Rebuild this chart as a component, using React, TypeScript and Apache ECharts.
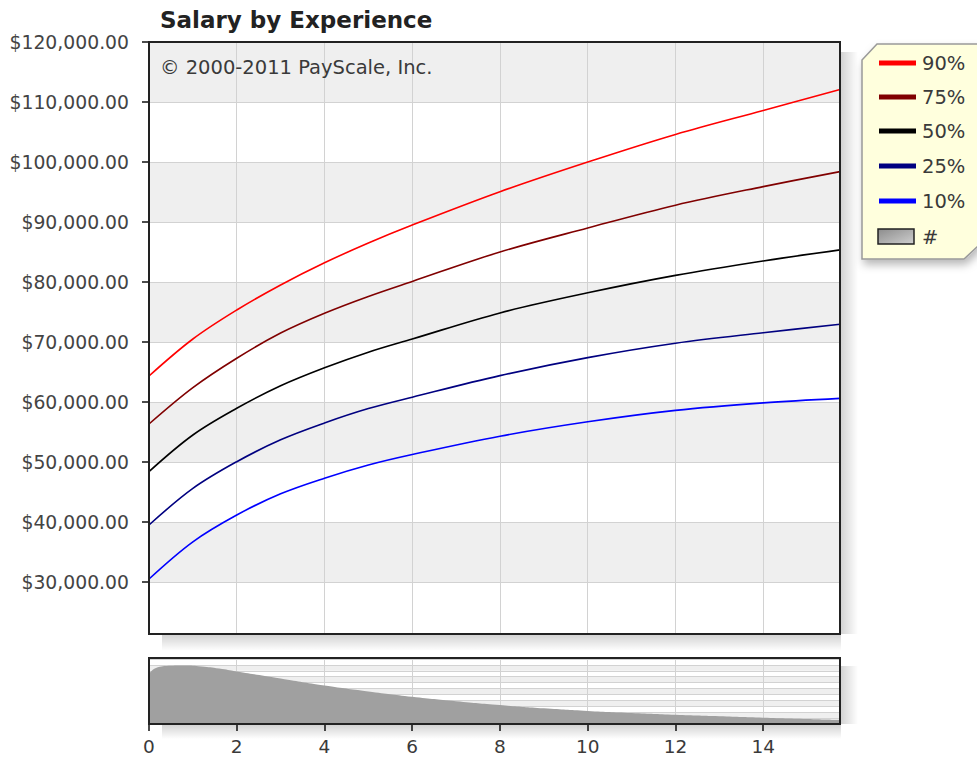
import React, { useEffect, useRef } from "react";
import * as echarts from "echarts";

const FONT = "DejaVu Sans";

const titleText = "Salary by Experience";
const copyrightText = "© 2000-2011 PayScale, Inc.";

// years of experience for the percentile curves
const years = [0, 1, 2, 3, 4, 5, 6, 8, 10, 12, 14, 15.75];
const p90 = [64333, 70500, 75333, 79500, 83200, 86500, 89500, 95050, 100000, 104600, 108600, 112100];
const p75 = [56333, 62400, 67300, 71500, 74800, 77600, 80100, 85000, 89000, 92800, 95900, 98400];
const p50 = [48400, 54500, 58950, 62700, 65700, 68300, 70500, 74850, 78200, 81100, 83500, 85350];
const p25 = [39500, 45600, 50050, 53700, 56500, 58900, 60800, 64400, 67400, 69800, 71550, 72950];
const p10 = [30500, 36700, 41167, 44700, 47300, 49500, 51250, 54300, 56700, 58600, 59850, 60600];

const seriesNames = ["90%", "75%", "50%", "25%", "10%"];
const seriesColors = ["#ff0000", "#800000", "#000000", "#000080", "#0000ff"];
const countName = "#";

// count of profiles by years of experience (relative)
const countYears = [0, 0.2, 0.5, 0.8, 1.2, 1.6, 2, 3, 4, 5, 6, 7, 8, 9, 10, 11, 12, 13, 14, 15, 15.75];
const counts = [8.5, 9.6, 9.85, 9.9, 9.75, 9.4, 8.9, 7.7, 6.5, 5.5, 4.6, 3.85, 3.2, 2.65, 2.2, 1.85, 1.55, 1.3, 1.07, 0.85, 0.7];

const xTicks = [0, 2, 4, 6, 8, 10, 12, 14];
const yMin = 20000;
const yMax = 120000;
const yStep = 10000;
const xMax = 15.75;

export default function App() {
  const ref = useRef<HTMLDivElement>(null);
  useEffect(() => {
    document.body.style.margin = "0";
    if (!ref.current) return;
    const chart = echarts.init(ref.current, null, { renderer: "svg" });
    const pct = [p90, p75, p50, p25, p10];
    const lineSeries = pct.map((vals, i) => ({
      name: seriesNames[i],
      type: "line",
      xAxisIndex: 0,
      yAxisIndex: 0,
      data: years.map((x, j) => [x, vals[j]]),
      smooth: 0.35,
      showSymbol: false,
      lineStyle: { color: seriesColors[i], width: 1.6 },
      z: 3,
    }));
    const fmtMoney = (v: number) =>
      v < 30000 ? "" : "$" + v.toLocaleString("en-US", { minimumFractionDigits: 2, maximumFractionDigits: 2 });

    const grad = (x2: number, y2: number) =>
      new echarts.graphic.LinearGradient(0, 0, x2, y2, [
        { offset: 0, color: "rgba(0,0,0,0.17)" },
        { offset: 1, color: "rgba(0,0,0,0)" },
      ]);

    const legendItems: any[] = [];
    const legendY = [63, 97, 131, 166, 201];
    seriesNames.forEach((n, i) => {
      legendItems.push({
        type: "line",
        z: 21,
        shape: { x1: 879, y1: legendY[i], x2: 916, y2: legendY[i] },
        style: { stroke: seriesColors[i], lineWidth: 5 },
      });
      legendItems.push({
        type: "text",
        z: 21,
        style: {
          text: n,
          x: 922,
          y: legendY[i],
          fill: "#3a3a3a",
          fontSize: 19.5,
          fontFamily: FONT,
          textVerticalAlign: "middle",
          verticalAlign: "middle",
        },
      });
    });
    legendItems.push({
      type: "rect",
      z: 21,
      shape: { x: 878, y: 229, width: 36, height: 15 },
      style: {
        fill: new echarts.graphic.LinearGradient(0, 0, 1, 1, [
          { offset: 0, color: "#8c8c8c" },
          { offset: 1, color: "#cfcfcf" },
        ]),
        stroke: "#222",
        lineWidth: 1.5,
      },
    });
    legendItems.push({
      type: "text",
      z: 21,
      style: {
        text: countName,
        x: 922,
        y: 237,
        fill: "#3a3a3a",
        fontSize: 19.5,
        fontFamily: FONT,
        textVerticalAlign: "middle",
        verticalAlign: "middle",
      },
    });

    chart.setOption({
      animation: false,
      grid: [
        { left: 149, top: 42, width: 691, height: 600 },
        { left: 149, top: 659, width: 691, height: 65 },
      ],
      xAxis: [
        {
          gridIndex: 0,
          type: "value",
          min: 0,
          max: xMax,
          interval: 2,
          axisLine: { show: false },
          axisTick: { show: false },
          axisLabel: { show: false },
          splitLine: { show: true, lineStyle: { color: "#d2d2d2", width: 1 } },
        },
        {
          gridIndex: 1,
          type: "value",
          min: 0,
          max: xMax,
          interval: 2,
          axisLine: { show: true, lineStyle: { color: "#111", width: 2 } },
          axisTick: { show: true, length: 7, lineStyle: { color: "#111", width: 1.5 }, customValues: xTicks },
          axisLabel: {
            margin: 13,
            fontSize: 18.5,
            color: "#3a3a3a",
            fontFamily: FONT,
            customValues: xTicks,
            formatter: (v: number) => (v % 2 === 0 && v < xMax ? String(v) : ""),
          },
          splitLine: { show: true, lineStyle: { color: "#d2d2d2", width: 1 } },
        },
      ],
      yAxis: [
        {
          gridIndex: 0,
          type: "value",
          min: yMin,
          max: yMax,
          interval: yStep,
          axisLine: { show: false },
          axisTick: { show: true, length: 7, lineStyle: { color: "#111", width: 1.5 } },
          axisLabel: { margin: 20, fontSize: 18.8, color: "#444", fontFamily: FONT, formatter: fmtMoney },
          splitLine: { show: true, lineStyle: { color: "#d2d2d2", width: 1 } },
          splitArea: { show: true, areaStyle: { color: ["#ffffff", "#efefef"] } },
        },
        {
          gridIndex: 1,
          type: "value",
          min: 0,
          max: 11,
          interval: 1,
          axisLine: { show: false },
          axisTick: { show: false },
          axisLabel: { show: false },
          splitLine: { show: true, lineStyle: { color: "#d2d2d2", width: 1 } },
          splitArea: { show: true, areaStyle: { color: ["#ffffff", "#efefef"] } },
        },
      ],
      series: [
        ...lineSeries,
        {
          name: countName,
          type: "line",
          xAxisIndex: 1,
          yAxisIndex: 1,
          data: countYears.map((x, j) => [x, counts[j]]),
          smooth: 0.5,
          showSymbol: false,
          lineStyle: { width: 0 },
          areaStyle: { color: "#a0a0a0", opacity: 1 },
          z: 3,
        },
      ],
      graphic: [
        { type: "rect", z: 5, shape: { x: 130, y: 634, width: 730, height: 12 }, style: { fill: "#ffffff" } },
        { type: "rect", z: 6, shape: { x: 841, y: 52, width: 17, height: 582 }, style: { fill: grad(1, 0) } },
        { type: "rect", z: 6, shape: { x: 162, y: 635, width: 679, height: 16 }, style: { fill: grad(0, 1) } },
        { type: "rect", z: 6, shape: { x: 841, y: 666, width: 17, height: 58 }, style: { fill: grad(1, 0) } },
        { type: "rect", z: 6, shape: { x: 162, y: 725, width: 679, height: 14 }, style: { fill: grad(0, 1) } },
        { type: "rect", z: 10, shape: { x: 149, y: 42, width: 691, height: 592 }, style: { fill: "none", stroke: "#222", lineWidth: 2 } },
        { type: "rect", z: 10, shape: { x: 149, y: 658, width: 691, height: 66 }, style: { fill: "none", stroke: "#222", lineWidth: 2 } },
        {
          type: "text",
          z: 11,
          style: {
            text: titleText,
            x: 160,
            y: 20,
            fill: "#222",
            fontSize: 23,
            fontWeight: "bold",
            fontFamily: FONT,
            textVerticalAlign: "middle",
            verticalAlign: "middle",
          },
        },
        {
          type: "text",
          z: 11,
          style: {
            text: copyrightText,
            x: 160,
            y: 67,
            fill: "#3a3a3a",
            fontSize: 19.5,
            fontFamily: FONT,
            textVerticalAlign: "middle",
            verticalAlign: "middle",
          },
        },
        {
          type: "polygon",
          z: 20,
          shape: {
            points: [
              [862, 60],
              [877, 44],
              [978, 44],
              [978, 246],
              [964, 259],
              [862, 259],
            ],
          },
          style: {
            fill: "#ffffdd",
            stroke: "#999",
            lineWidth: 1.5,
            shadowBlur: 8,
            shadowOffsetX: 2,
            shadowOffsetY: 5,
            shadowColor: "rgba(0,0,0,0.28)",
          },
        },
        ...legendItems,
      ],
    });
    return () => chart.dispose();
  }, []);
  return <div ref={ref} style={{ width: 977, height: 761 }} />;
}
